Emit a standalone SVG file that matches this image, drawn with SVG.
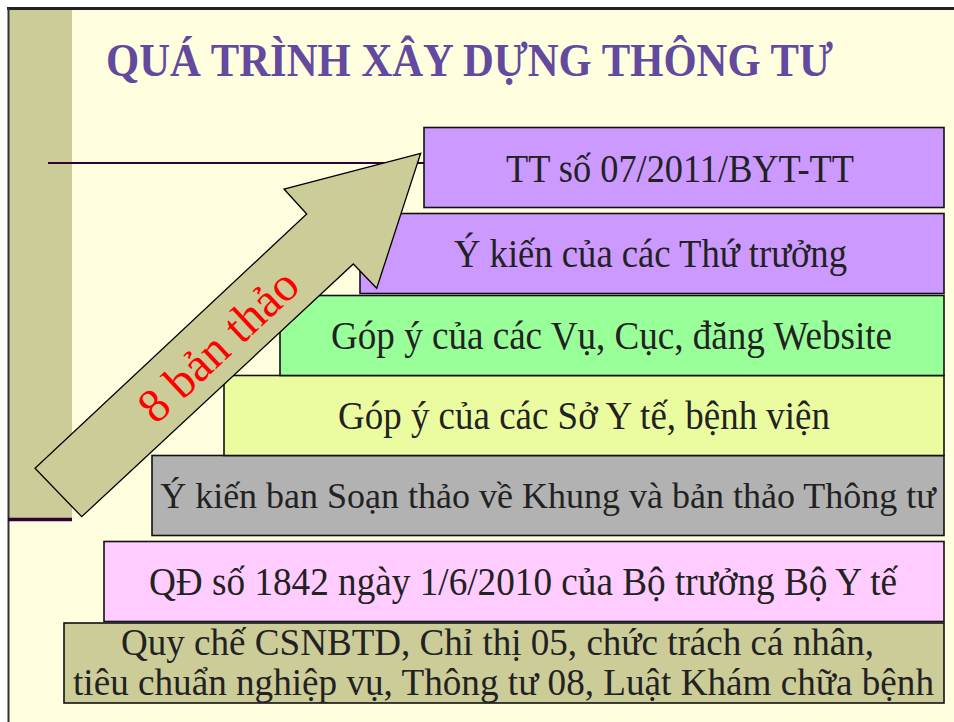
<svg xmlns="http://www.w3.org/2000/svg" width="954" height="722" viewBox="0 0 954 722">
  <defs>
    <style>
      .box { stroke: #111; stroke-width: 1.6; }
      .lbl { font-family: "Liberation Serif", "Times New Roman", serif; font-size: 39px; fill: #222; }
      .lbl2 { font-family: "Liberation Serif", "Times New Roman", serif; font-size: 37px; fill: #222; }
      .lbl3 { font-family: "Liberation Serif", "Times New Roman", serif; font-size: 36px; fill: #222; }
      .title { font-family: "Liberation Serif", "Times New Roman", serif; font-size: 46px; font-weight: bold; fill: #634A9E; }
      .arrowlbl { font-family: "Liberation Serif", "Times New Roman", serif; font-size: 48px; fill: #FF0000; }
    </style>
  </defs>

  <!-- background -->
  <rect x="0" y="0" width="954" height="722" fill="#FFFFFF"/>
  <rect x="8" y="8" width="946" height="714" fill="#FFFFE0"/>
  <rect x="9" y="9" width="63" height="511" fill="#CCCC99"/>
  <line x1="7" y1="8.5" x2="954" y2="8.5" stroke="#222" stroke-width="3"/>
  <line x1="8.5" y1="8" x2="8.5" y2="722" stroke="#333" stroke-width="2"/>
  <line x1="8" y1="519.5" x2="72" y2="519.5" stroke="#330033" stroke-width="3.5"/>
  <line x1="48" y1="163" x2="424" y2="163" stroke="#330033" stroke-width="2"/>

  <g id="title">
    <text class="title" x="106" y="76" textLength="727" lengthAdjust="spacingAndGlyphs">QUÁ TRÌNH XÂY DỰNG THÔNG TƯ</text>
  </g>

  <g id="node-qc">
    <rect class="box" x="64" y="623" width="880" height="80" fill="#CCCC99"/>
    <text class="lbl2" x="121" y="655" textLength="753" lengthAdjust="spacingAndGlyphs">Quy chế CSNBTD, Chỉ thị 05, chức trách cá nhân,</text>
    <text class="lbl2" x="73" y="695" textLength="861" lengthAdjust="spacingAndGlyphs">tiêu chuẩn nghiệp vụ, Thông tư 08, Luật Khám chữa bệnh</text>
  </g>

  <g id="node-qd">
    <rect class="box" x="104" y="541.5" width="840" height="80" fill="#FFCCFF"/>
    <text class="lbl" x="149" y="595" textLength="748" lengthAdjust="spacingAndGlyphs">QĐ số 1842 ngày 1/6/2010 của Bộ trưởng Bộ Y tế</text>
  </g>

  <g id="node-bst">
    <rect class="box" x="152" y="455.5" width="792" height="80" fill="#B2B2B2" stroke-width="2"/>
    <text class="lbl3" x="548" y="508" text-anchor="middle">Ý kiến ban Soạn thảo về Khung và bản thảo Thông tư</text>
  </g>

  <g id="node-so">
    <rect class="box" x="224" y="375.5" width="720" height="80" fill="#EBFCA0" stroke="#444"/>
    <text class="lbl" x="338" y="429" textLength="492" lengthAdjust="spacingAndGlyphs">Góp ý của các Sở Y tế, bệnh viện</text>
  </g>

  <g id="node-vu">
    <rect class="box" x="280" y="295.5" width="664" height="80" fill="#99FF99"/>
    <text class="lbl" x="331" y="349" textLength="561" lengthAdjust="spacingAndGlyphs">Góp ý của các Vụ, Cục, đăng Website</text>
  </g>

  <g id="node-tt">
    <rect class="box" x="360" y="213.5" width="584" height="80" fill="#CC99FF"/>
    <text class="lbl" x="454" y="267" textLength="393" lengthAdjust="spacingAndGlyphs">Ý kiến của các Thứ trưởng</text>
  </g>

  <g id="node-final">
    <rect class="box" x="424" y="127.5" width="520" height="80" fill="#CC99FF"/>
    <text class="lbl" x="506" y="182" textLength="348" lengthAdjust="spacingAndGlyphs">TT số 07/2011/BYT-TT</text>
  </g>

  <g id="connectors">
    <g id="progress-arrow">
      <polygon points="420.7,153.3 284,189 306.7,214 35,468.3 81.7,516.7 353.3,264 376.7,288.3" fill="#CCCC99" stroke="#000" stroke-width="1.3" stroke-linejoin="miter"/>
      <text class="arrowlbl" text-anchor="middle" transform="translate(229,357) rotate(-43)" x="0" y="0">8 bản thảo</text>
    </g>
  </g>
</svg>
